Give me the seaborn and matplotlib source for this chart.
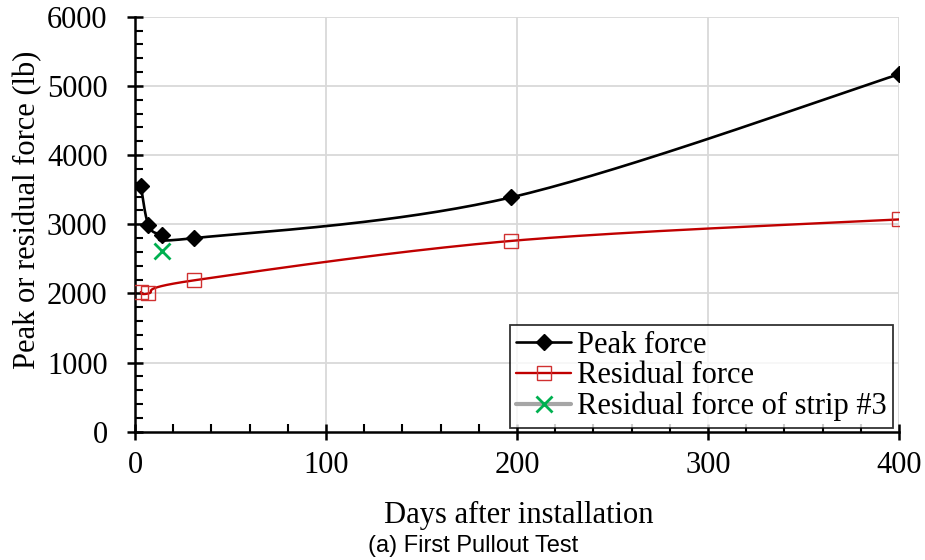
import numpy as np
import pandas as pd
import matplotlib
matplotlib.use("Agg")
import matplotlib.pyplot as plt
from matplotlib.lines import Line2D
from matplotlib.ticker import MultipleLocator
import seaborn as sns

# ---- data ----
peak_days = [3, 7, 14, 31, 197, 400]
peak_force = [3560, 2990, 2850, 2800, 3390, 5170]
resid_days = [3, 7, 31, 197, 400]
resid_force = [2020, 2000, 2190, 2760, 3070]
strip3_days = [14]
strip3_force = [2610]
x_ticks = [0, 100, 200, 300, 400]
y_ticks = [0, 1000, 2000, 3000, 4000, 5000, 6000]

sns.set_theme(style="white")
plt.rcParams['font.family'] = ['Liberation Serif', 'DejaVu Serif']
plt.rcParams['text.color'] = 'black'
plt.rcParams['axes.labelcolor'] = 'black'
plt.rcParams['xtick.color'] = 'black'
plt.rcParams['ytick.color'] = 'black'

fig = plt.figure(figsize=(9.25, 5.6), dpi=100)
ax = fig.add_axes([0.146, 0.229, 0.826, 0.741])
ax.set_xlim(0, 400)
ax.set_ylim(0, 6000)

W, H = 764.0, 415.0  # axes size in pixels for smoothing in screen space


def smooth(xs, ys, n=60):
    """Excel-like smoothed line (Catmull-Rom Bezier in screen space)."""
    px = np.array(xs, float) / 400 * W
    py = np.array(ys, float) / 6000 * H
    P = np.column_stack([px, py])
    out = []
    for i in range(len(P) - 1):
        p0 = P[i - 1] if i > 0 else P[i]
        p1, p2 = P[i], P[i + 1]
        p3 = P[i + 2] if i + 2 < len(P) else P[i + 1]
        c1 = p1 + (p2 - p0) / 6.0
        c2 = p2 - (p3 - p1) / 6.0
        t = np.linspace(0, 1, n)[:, None]
        seg = ((1 - t) ** 3) * p1 + 3 * ((1 - t) ** 2) * t * c1 + 3 * (1 - t) * t ** 2 * c2 + t ** 3 * p2
        out.append(seg if i == 0 else seg[1:])
    S = np.vstack(out)
    return S[:, 0] / W * 400, S[:, 1] / H * 6000


grid_c = "#D9D9D9"
for xv in x_ticks[1:]:
    ax.axvline(xv, color=grid_c, lw=1.3, zorder=0)
for yv in y_ticks[1:]:
    ax.axhline(yv, color=grid_c, lw=1.3, zorder=0)

sx, sy = smooth(peak_days, peak_force)
sns.lineplot(x=sx, y=sy, sort=False, estimator=None, color="black", lw=1.9, ax=ax, zorder=3)
rx, ry = smooth(resid_days, resid_force)
sns.lineplot(x=rx, y=ry, sort=False, estimator=None, color="#C00000", lw=1.7, ax=ax, zorder=3)

ax.plot(peak_days, peak_force, ls="none", marker="D", ms=8.5, color="black", zorder=4)
ax.plot(resid_days, resid_force, ls="none", marker="s", ms=9.5, mfc="none",
        mec="#D03030", mew=1.0, zorder=4)
ax.plot(strip3_days, strip3_force, ls="none", marker="x", ms=11, mew=2.0,
        color="#00B050", zorder=4)

for s in ["top", "right"]:
    ax.spines[s].set_visible(False)
for s in ["left", "bottom"]:
    ax.spines[s].set_color("black")
    ax.spines[s].set_linewidth(1.8)

ax.set_xticks(x_ticks)
ax.set_yticks(y_ticks)
ax.xaxis.set_minor_locator(MultipleLocator(20))
ax.yaxis.set_minor_locator(MultipleLocator(200))
ax.tick_params(axis="both", which="major", direction="inout", length=11.5, width=1.8,
               colors="black", labelsize=22)
ax.tick_params(axis="y", which="major", pad=14)
ax.tick_params(axis="x", which="major", pad=8)
ax.tick_params(axis="both", which="minor", direction="in", length=6, width=1.5, colors="black")
ax.tick_params(axis="both", which="both", bottom=True, left=True)

ax.set_xlabel("Days after installation", fontsize=22)
ax.set_ylabel("Peak or residual force (lb)", fontsize=22)
ax.xaxis.set_label_coords(0.502, -0.167)
ax.yaxis.set_label_coords(-0.122, 0.535)

handles = [
    Line2D([], [], color="black", lw=1.9, marker="D", ms=8.5),
    Line2D([], [], color="#C00000", lw=1.7, marker="s", ms=9.5, mfc="none", mec="#D03030", mew=1.0),
    Line2D([], [], color="#A6A6A6", lw=3, marker="x", ms=11, mew=2.0, mec="#00B050"),
]
labels = ["Peak force", "Residual force", "Residual force of strip #3"]
leg = ax.legend(handles, labels, loc="lower right", bbox_to_anchor=(0.992, 0.01),
                fontsize=22, frameon=True, fancybox=False, edgecolor="black",
                handlelength=1.8, handletextpad=0.2, borderpad=0.2, labelspacing=0.05,
                borderaxespad=0.0)
leg.get_frame().set_linewidth(1.3)
leg.set_zorder(5)

fig.text(0.511, 0.025, "(a) First Pullout Test", ha="center", va="center",
         fontsize=17, family=["Liberation Sans", "DejaVu Sans"])

fig.savefig("out.png", dpi=100)
